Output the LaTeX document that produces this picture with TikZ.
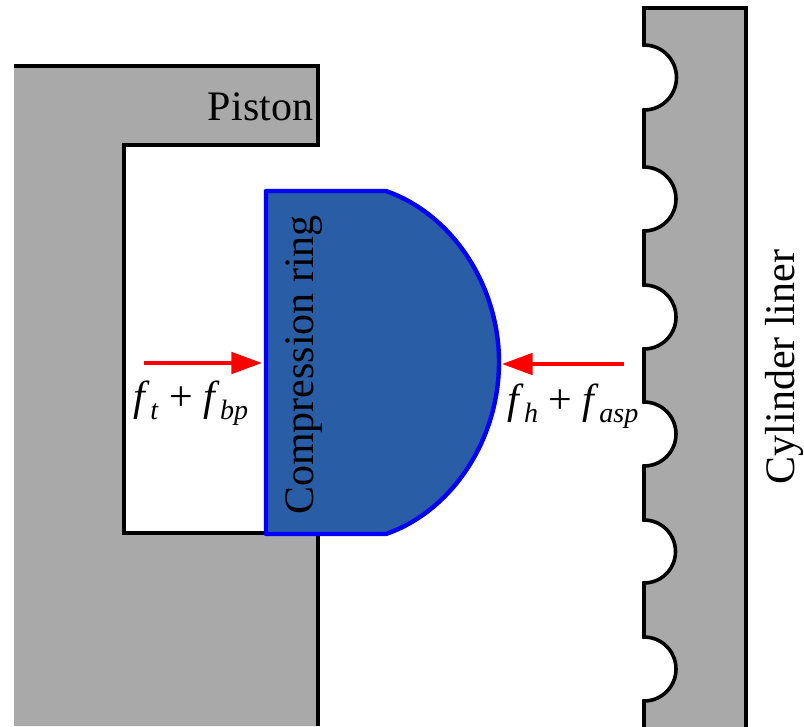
\documentclass[tikz,border=0pt]{standalone}
\usepackage{fontspec}
\setmainfont{Liberation Serif}
\usetikzlibrary{arrows.meta}
\newcommand{\subvar}[2]{\textit{#1}\raisebox{-0.22em}{\fontsize{21pt}{21pt}\selectfont\textit{#2}}}

\begin{document}
\begin{tikzpicture}[
  x=0.75pt, y=-0.75pt,
  every node/.style={font=\fontsize{31.5pt}{34pt}\selectfont, inner sep=0pt},
  metal/.style={fill=metalgray, draw=none},
  outline/.style={draw=black, line width=2.7pt, line join=miter},
  ringbody/.style={fill=ringblue, draw=blue, line width=3.3pt, line join=round},
  force/.style={-{Triangle[length=23pt,width=16pt]}, red, line width=3pt},
]
  \definecolor{metalgray}{HTML}{A9A9A9}
  \definecolor{ringblue}{HTML}{295DA6}
  \useasboundingbox (0,0) rectangle (804,726);

  % Piston
  \fill[metal] (14,66) -- (318,66) -- (318,145) -- (124,145) -- (124,533)
    -- (318,533) -- (318,726) -- (14,726) -- cycle;
  \draw[outline] (14,66) -- (318,66) -- (318,145) -- (124,145) -- (124,533)
    -- (318,533) -- (318,726);

  % Cylinder liner, runs off the bottom of the page
  \draw[outline, fill=metalgray] (746,740) -- (746,8) -- (644,8) -- (644,45)
    arc[start angle=-90, end angle=90, radius=32.5]
    -- (644,167) arc[start angle=-90, end angle=90, radius=32]
    -- (644,285) arc[start angle=-90, end angle=90, radius=32]
    -- (644,402) arc[start angle=-90, end angle=90, radius=32]
    -- (644,520) arc[start angle=-90, end angle=90, radius=31.5]
    -- (644,637) arc[start angle=-90, end angle=90, radius=32]
    -- (644,740) -- cycle;

  % Compression ring
  \draw[ringbody] (266,191) -- (386,191)
    .. controls (452,214) and (499,285) .. (499,362)
    .. controls (499,440) and (452,511) .. (386,534) -- (266,534) -- cycle;

  % Labels
  \node (piston) at (260.5,107) {Piston};
  \node[rotate=90] (ring) at (304,365) {Compression ring};
  \node[rotate=90] (liner) at (784,367) {Cylinder liner};
  \node (ftbp) at (191,403) {\subvar{f}{t} + \subvar{f}{bp}};
  \node (fhasp) at (573,406) {\subvar{f}{h} + \subvar{f}{asp}};

  % Forces
  \coordinate (ttail) at (144,363);
  \coordinate (ttip) at (262,363);
  \coordinate (htail) at (624,364);
  \coordinate (htip) at (502,364);
  \draw[force] (ttail) -- (ttip);
  \draw[force] (htail) -- (htip);
\end{tikzpicture}
\end{document}
